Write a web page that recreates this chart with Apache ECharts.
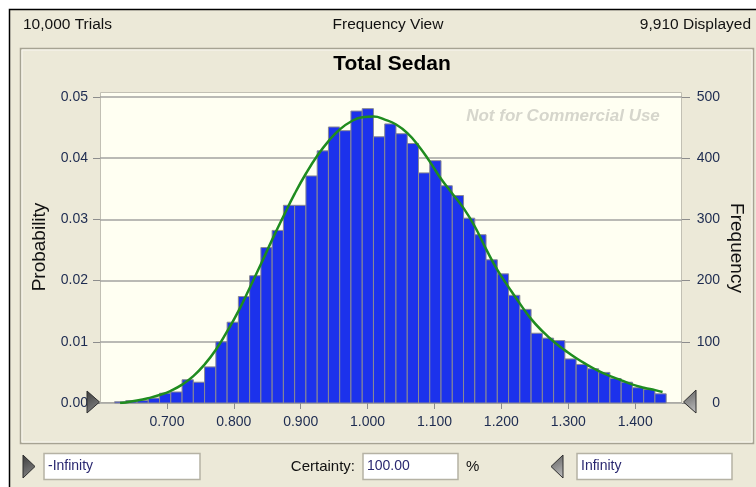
<!DOCTYPE html>
<html>
<head>
<meta charset="utf-8">
<title>Total Sedan</title>
<script src="https://cdn.jsdelivr.net/npm/echarts@6/dist/echarts.min.js"></script>
<style>
  html, body { margin: 0; padding: 0; background: #fff; }
  #chart { width: 756px; height: 487px; }
</style>
</head>
<body>
<div id="chart"></div>
<script>
// histogram bins
var binStart = 0.6217
var binWidth = 0.01683
var frequency = [
  2, 4, 4, 8, 16, 18, 38, 34, 59, 100,
  132, 174, 208, 254, 282, 323, 323, 371, 412, 451,
  445, 477, 481, 435, 456, 440, 424, 376, 396, 355,
  339, 302, 275, 234, 211, 176, 153, 114, 106, 102,
  72, 63, 56, 50, 40, 34, 25, 22, 15
]

// fitted distribution curve (probability)
var curveX = [
  0.6300, 0.6385, 0.6554, 0.6722, 0.6890, 0.7059, 0.7227, 0.7395, 0.7564, 0.7732,
  0.7900, 0.8069, 0.8237, 0.8406, 0.8574, 0.8742, 0.8911, 0.9079, 0.9248, 0.9416,
  0.9584, 0.9753, 0.9921, 1.0090, 1.0258, 1.0426, 1.0595, 1.0763, 1.0932, 1.1100,
  1.1268, 1.1437, 1.1605, 1.1774, 1.1942, 1.2110, 1.2279, 1.2447, 1.2616, 1.2784,
  1.2952, 1.3121, 1.3289, 1.3458, 1.3626, 1.3794, 1.3963, 1.4131, 1.4300, 1.4410
]
var curveY = [
  0.0000, 0.0001, 0.0004, 0.0008, 0.0013, 0.0020, 0.0030, 0.0044, 0.0063, 0.0087,
  0.0117, 0.0150, 0.0188, 0.0227, 0.0267, 0.0305, 0.0342, 0.0375, 0.0404, 0.0428,
  0.0447, 0.0460, 0.0467, 0.0468, 0.0463, 0.0455, 0.0441, 0.0420, 0.0394, 0.0366,
  0.0342, 0.0318, 0.0288, 0.0251, 0.0217, 0.0189, 0.0162, 0.0137, 0.0117, 0.0100,
  0.0086, 0.0073, 0.0062, 0.0052, 0.0044, 0.0037, 0.0030, 0.0025, 0.0021, 0.0018
]

var xTicks = [0.7, 0.8, 0.9, 1.0, 1.1, 1.2, 1.3, 1.4]

var FONT = '"Liberation Sans", Arial, sans-serif'
var LABEL = '#1d2b50'

var binData = frequency.map(function(f, i) {
  return [binStart + i * binWidth, binStart + (i + 1) * binWidth, f]
})
var curveData = curveX.map(function(x, i) { return [x, curveY[i]] })

function arrow(points, dark) {
  return {
    type: 'polygon',
    shape: { points: points },
    style: {
      fill: new echarts.graphic.LinearGradient(0, 0, 1, 1, [
        { offset: 0, color: dark ? '#3c3c3c' : '#5a5a5a' },
        { offset: 1, color: dark ? '#8c8c8c' : '#c4c4c4' }
      ]),
      stroke: '#2e2e2e',
      lineWidth: 1
    },
    z: 10
  }
}

function textBox(x, y, w, h, text) {
  return [
    { type: 'rect', shape: { x: x, y: y, width: w, height: h }, style: { fill: '#fff', stroke: '#b5b2a4', lineWidth: 1.5 }, z: 1 },
    { type: 'text', x: x + 4, y: y + h / 2, style: { text: text, font: '14px ' + FONT, fill: '#2a2870', verticalAlign: 'middle' }, z: 2 }
  ]
}

var chart = echarts.init(document.getElementById('chart'))

chart.setOption({
  backgroundColor: '#ffffff',
  animation: false,
  grid: {
    left: 100,
    right: 74,
    top: 97,
    bottom: 84
  },
  xAxis: {
    type: 'value',
    min: 0.6,
    max: 1.47,
    interval: 0.1,
    axisLine: { show: false },
    splitLine: { show: false },
    axisTick: {
      customValues: xTicks,
      length: 6,
      lineStyle: { color: '#8c8c8c' }
    },
    axisLabel: {
      customValues: xTicks,
      margin: 12,
      fontSize: 14,
      fontFamily: FONT,
      color: LABEL,
      formatter: function(v) { return v.toFixed(3) }
    }
  },
  yAxis: [{
    type: 'value',
    position: 'left',
    min: 0,
    max: 0.05,
    interval: 0.01,
    axisLine: { show: false },
    axisTick: { show: true, length: 7, lineStyle: { color: '#8c8c8c' } },
    axisLabel: {
      margin: 12,
      fontSize: 14,
      fontFamily: FONT,
      color: LABEL,
      formatter: function(v) { return v.toFixed(2) }
    },
    splitLine: { lineStyle: { color: '#a3a3a0', width: 1.5 } }
  }, {
    type: 'value',
    position: 'right',
    min: 0,
    max: 500,
    interval: 100,
    axisLine: { show: false },
    axisTick: { show: true, length: 8, lineStyle: { color: '#8c8c8c' } },
    axisLabel: {
      margin: 38,
      align: 'right',
      fontSize: 14,
      fontFamily: FONT,
      color: LABEL
    },
    splitLine: { show: false }
  }],
  series: [{
    type: 'custom',
    yAxisIndex: 1,
    data: binData,
    encode: { x: [0, 1], y: 2 },
    renderItem: function(params, api) {
      var p0 = api.coord([api.value(0), api.value(2)])
      var p1 = api.coord([api.value(1), 0])
      return {
        type: 'rect',
        shape: { x: p0[0], y: p0[1], width: p1[0] - p0[0], height: p1[1] - p0[1] },
        style: { fill: '#1c32ec', stroke: '#8a8a92', lineWidth: 1 }
      }
    },
    z: 3
  }, {
    type: 'line',
    yAxisIndex: 0,
    data: curveData,
    smooth: true,
    showSymbol: false,
    lineStyle: { color: '#1f8c1f', width: 2.5 },
    z: 4
  }],
  graphic: [
    // window frame
    { type: 'rect', shape: { x: 9, y: 9, width: 760, height: 490 }, style: { fill: '#ece9d8' }, z: -20 },
    { type: 'polyline', shape: { points: [[9.5, 490], [9.5, 9.5], [760, 9.5]] }, style: { stroke: '#000', lineWidth: 1.5, fill: null }, z: -19 },
    { type: 'text', x: 23, y: 25, style: { text: '10,000 Trials', font: '15.5px ' + FONT, fill: '#111', verticalAlign: 'middle' } },
    { type: 'text', x: 388, y: 25, style: { text: 'Frequency View', font: '15.5px ' + FONT, fill: '#111', align: 'center', verticalAlign: 'middle' } },
    { type: 'text', x: 751, y: 25, style: { text: '9,910 Displayed', font: '15.5px ' + FONT, fill: '#111', align: 'right', verticalAlign: 'middle' } },
    // chart panel
    { type: 'rect', shape: { x: 20.5, y: 48.5, width: 733, height: 395 }, style: { fill: null, stroke: '#a6a393', lineWidth: 1.5 }, z: -18 },
    { type: 'rect', shape: { x: 22, y: 50, width: 730, height: 392 }, style: { fill: null, stroke: '#f7f6ef', lineWidth: 1 }, z: -18 },
    { type: 'text', x: 392, y: 64, style: { text: 'Total Sedan', font: 'bold 21px ' + FONT, fill: '#000', align: 'center', verticalAlign: 'middle' } },
    // plot area
    { type: 'rect', shape: { x: 100.5, y: 92.5, width: 581, height: 310 }, style: { fill: '#fffff2', stroke: '#c2c0b4', lineWidth: 1 }, z: -10 },
    { type: 'text', x: 563, y: 116, style: { text: 'Not for Commercial Use', font: 'italic bold 17px ' + FONT, fill: '#d6d6cc', align: 'center', verticalAlign: 'middle' }, z: -5 },
    { type: 'text', x: 40, y: 247, rotation: Math.PI / 2, style: { text: 'Probability', font: '19px ' + FONT, fill: '#111', align: 'center', verticalAlign: 'middle' } },
    { type: 'text', x: 736, y: 248, rotation: -Math.PI / 2, style: { text: 'Frequency', font: '19px ' + FONT, fill: '#111', align: 'center', verticalAlign: 'middle' } },
    arrow([[87, 391], [99.5, 402], [87, 413]], true),
    arrow([[696, 390], [683.5, 402], [696, 413]], false),
    // certainty controls
    arrow([[23, 455], [35, 466.5], [23, 478]], true),
    arrow([[563, 455], [551, 466.5], [563, 478]], false)
  ].concat(textBox(44, 453.5, 156, 26, '-Infinity'))
   .concat(textBox(363, 453.5, 95, 26, '100.00'))
   .concat(textBox(577, 453.5, 155, 26, 'Infinity'))
   .concat([
    { type: 'text', x: 355, y: 467, style: { text: 'Certainty:', font: '15px ' + FONT, fill: '#111', align: 'right', verticalAlign: 'middle' } },
    { type: 'text', x: 466, y: 467, style: { text: '%', font: '15px ' + FONT, fill: '#111', verticalAlign: 'middle' } }
  ])
})
</script>
</body>
</html>
